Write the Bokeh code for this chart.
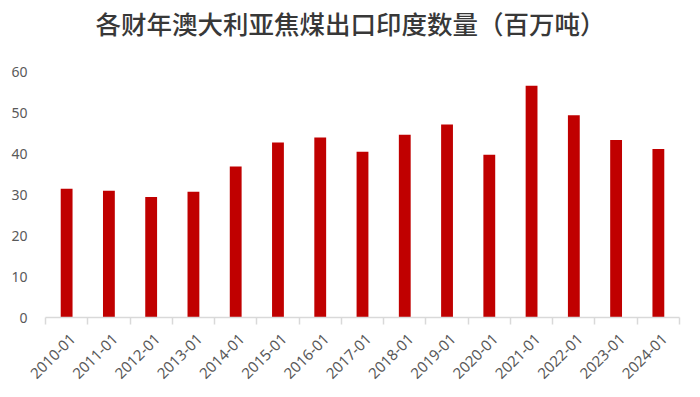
import math
from bokeh.plotting import figure
from bokeh.models import FixedTicker, Range1d, Title
from bokeh.embed import file_html
from bokeh.resources import INLINE

categories = ["2010-01", "2011-01", "2012-01", "2013-01", "2014-01", "2015-01", "2016-01",
              "2017-01", "2018-01", "2019-01", "2020-01", "2021-01", "2022-01", "2023-01", "2024-01"]
values = [31.4, 30.9, 29.4, 30.7, 36.8, 42.7, 43.9, 40.4, 44.6, 47.1, 39.7, 56.5, 49.3, 43.3, 41.1]
y_ticks = [0, 10, 20, 30, 40, 50, 60]
title_text = "各财年澳大利亚焦煤出口印度数量（百万吨）"

n = len(categories)
xs = list(range(n))
label_shift = 0.15
label_pos = [i + label_shift for i in xs]

p = figure(width=700, height=397, output_backend="svg", toolbar_location=None,
           x_range=Range1d(-0.5, n - 0.5), y_range=Range1d(0, 60),
           min_border_left=45, min_border_right=21, min_border_bottom=80, min_border_top=71)
p.outline_line_color = None
p.background_fill_color = "white"
p.border_fill_color = "white"

# spacer panel between the frame and the title (panels stack outward)
spacer = Title(text=" ", text_font_size="1px", standoff=28)
p.add_layout(spacer, "above")

t = Title(text=title_text, align="left", vertical_align="bottom",
          text_font="Noto Sans CJK SC Medium", text_font_size="25.5px",
          text_font_style="normal", text_color="#383838", standoff=0, offset=50)
p.add_layout(t, "above")

p.vbar(x=xs, top=values, width=0.28, bottom=0, fill_color="#C00000", line_color=None)

p.xgrid.grid_line_color = None
p.ygrid.grid_line_color = None

# x axis
xa = p.xaxis[0]
xa.ticker = FixedTicker(ticks=label_pos, minor_ticks=[i - 0.5 for i in range(n + 1)])
xa.major_label_overrides = {pos: c for pos, c in zip(label_pos, categories)}
xa.major_label_orientation = math.pi / 4
xa.major_tick_out = 0
xa.major_tick_in = 0
xa.minor_tick_out = 7
xa.minor_tick_in = 0
xa.minor_tick_line_color = "#D9D9D9"
xa.minor_tick_line_width = 1.5
xa.axis_line_color = "#D9D9D9"
xa.axis_line_width = 1.5
xa.major_label_text_font = "Noto Sans"
xa.major_label_text_font_size = "15px"
xa.major_label_text_color = "#595959"
xa.major_label_standoff = 12

# y axis
ya = p.yaxis[0]
ya.ticker = FixedTicker(ticks=y_ticks)
ya.axis_line_color = None
ya.major_tick_line_color = None
ya.minor_tick_line_color = None
ya.major_label_text_font = "Noto Sans"
ya.major_label_text_font_size = "14px"
ya.major_label_text_color = "#595959"
ya.major_label_standoff = 12

open("out.html", "w").write(file_html(p, INLINE))
